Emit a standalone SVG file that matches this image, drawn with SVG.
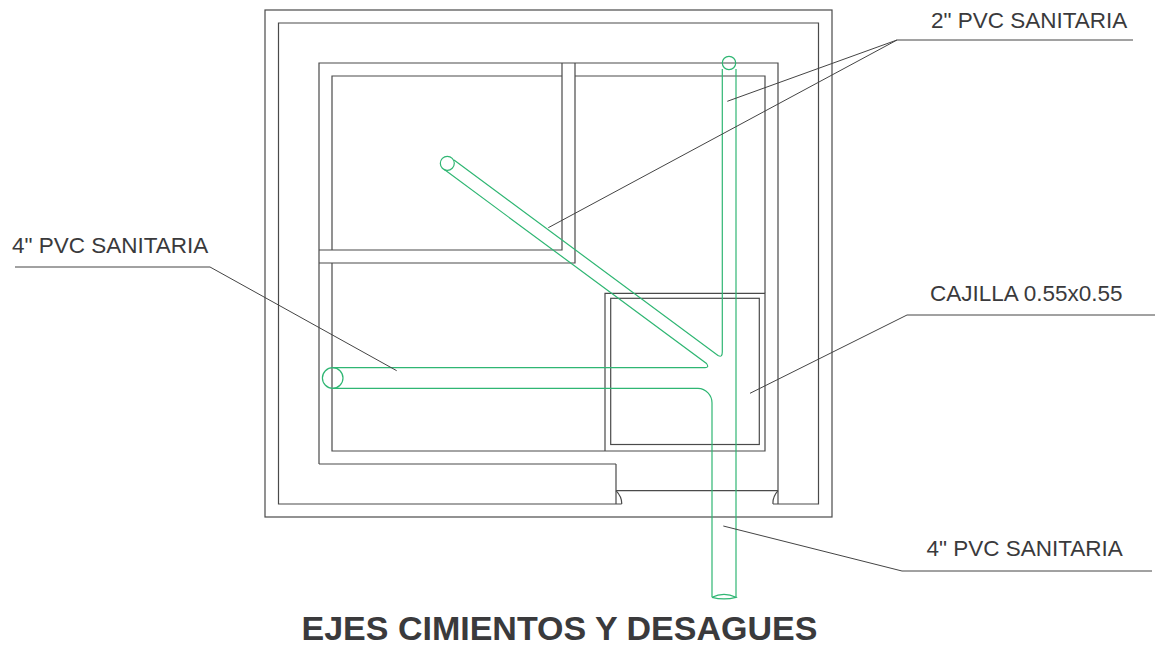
<svg xmlns="http://www.w3.org/2000/svg" width="1160" height="652" viewBox="0 0 1160 652">
<style>
.w{fill:none;stroke:#4a4a4a;stroke-width:1.2}
.p{fill:none;stroke:#2fb673;stroke-width:1.2}
.l{fill:none;stroke:#444;stroke-width:1}
text{font-family:"Liberation Sans",Arial,sans-serif;fill:#3a3a3c;font-size:22.500px}
</style>
<rect width="1160" height="652" fill="#fff"/>
<g id="walls">
<rect class="w" x="265" y="10" width="567" height="507"/>
<path class="w" d="M616 504H278.500V23H818.500V504H773"/>
<path class="w" d="M319 464V63H778V504M616 464V504M319 464H616M616 490.700H778"/>
<path class="w" d="M616 490.700Q622 497 621.700 504M778 490.700Q772.500 497 773 504M616 504H621.700"/>
<path class="w" d="M562 63V250H319M575 63V263H319"/>
<path class="w" d="M562 76H332V250M332 263V451H605M575 76H765V293"/>
</g>
<g id="cajilla">
<path class="w" d="M605 451V293.300H765V451H605"/>
<rect class="w" x="610.700" y="298.300" width="148.600" height="146.200"/>
</g>
<g id="connectors">
<g id="pipes">
<circle class="p" cx="729" cy="63" r="6.700"/>
<circle class="p" cx="447.300" cy="163.300" r="7"/>
<circle class="p" cx="332.700" cy="378" r="10.300"/>
<path class="p" d="M722.300 69V352Q722.300 358 718 355.500L454 160"/>
<path class="p" d="M444 169.300L706.500 363.500Q709.500 367.700 705 367.700H333"/>
<path class="p" d="M333 388.300H698A14.500 14.500 0 0 1 712 403V597.300"/>
<path class="p" d="M736 69V597.300"/>
<path class="p" d="M712 597.300Q724 591.500 736 597.300Q724 600.500 712 597.300"/>
</g>
<g id="leaders">
<path class="l" d="M1133 40H897L727.300 101.300M897 40L548.300 227.700"/>
<path class="l" d="M15 267H210L396.700 370.700"/>
<path class="l" d="M1155 315H907L750 393.300"/>
<path class="l" d="M1152 571H902L723.300 526"/>
</g>
</g>
<g id="labels">
<text x="931" y="27.500">2" PVC SANITARIA</text>
<text x="12" y="253">4" PVC SANITARIA</text>
<text x="930" y="301">CAJILLA 0.55x0.55</text>
<text x="926.500" y="556">4" PVC SANITARIA</text>
<text x="301.500" y="640" style="font-size:34px;font-weight:bold">EJES CIMIENTOS Y DESAGUES</text>
</g>
</svg>
